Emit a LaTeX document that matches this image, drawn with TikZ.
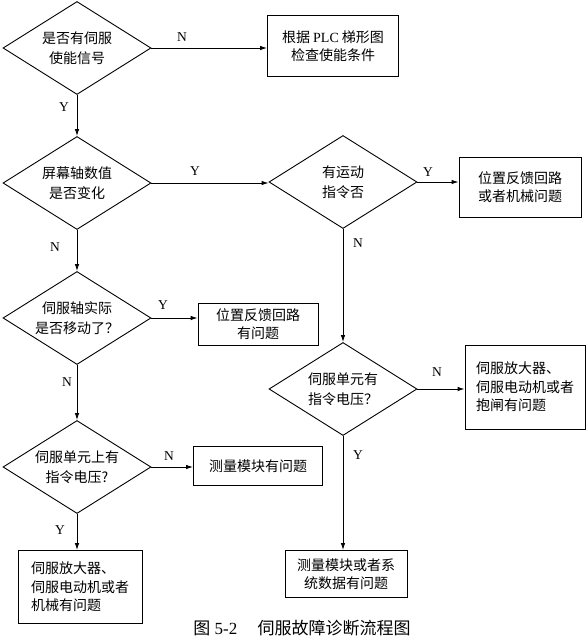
\documentclass[tikz,border=0pt]{standalone}
\usepackage{fontspec}
\setmainfont{Liberation Serif}
\newfontfamily\cjk{Noto Sans CJK SC}
\usetikzlibrary{shapes.geometric,arrows.meta}
\begin{document}
\begin{tikzpicture}[x=1pt,y=-1pt,
 dec/.style={diamond,draw,line width=0.9pt,aspect=1.6,inner sep=0pt,minimum width=148pt,minimum height=93pt,align=center,font=\cjk\fontsize{14}{20}\selectfont},
 box/.style={rectangle,draw,line width=0.9pt,inner sep=0pt,align=center,font=\cjk\fontsize{14}{18.5}\selectfont},
 lbl/.style={font=\fontsize{13.5}{13.5}\selectfont},
 arr/.style={line width=0.9pt,-{Latex[length=7pt,width=4.5pt]}}]
\useasboundingbox (0,0) rectangle (587,640);
% decisions
\node[dec] (d1) at (77,48) {是否有伺服\\使能信号};
\node[dec] (d2) at (77,183) {屏幕轴数值\\是否变化};
\node[dec] (d3) at (343,182) {有运动\\指令否};
\node[dec] (d4) at (77,318) {伺服轴实际\\是否移动了？};
\node[dec] (d6) at (77,467) {伺服单元上有\\指令电压?};
\node[dec] (d5) at (343,389) {伺服单元有\\指令电压？};
% boxes
\node[box,minimum width=131pt,minimum height=61pt] (b1) at (333,46) {根据 {\rmfamily PLC} 梯形图\\检查使能条件};
\node[box,minimum width=122pt,minimum height=60pt] (b2) at (520,187) {位置反馈回路\\或者机械问题};
\node[box,minimum width=120pt,minimum height=42pt] (b3) at (258,324) {位置反馈回路\\有问题};
\node[box,minimum width=129pt,minimum height=39pt] (b4) at (258,466) {测量模块有问题};
\node[box,minimum width=124pt,minimum height=73pt,align=left] (b5) at (80,587) {伺服放大器、\\伺服电动机或者\\机械有问题};
\node[box,minimum width=120pt,minimum height=84pt,align=left] (b6) at (525,387) {伺服放大器、\\伺服电动机或者\\抱闸有问题};
\node[box,minimum width=122pt,minimum height=47pt] (b7) at (346,574) {测量模块或者系\\统数据有问题};
% connectors
\draw[arr] (d1.east) -- (d1.east -| b1.west);
\draw[arr] (d1.south) -- (d2.north);
\draw[arr] (d2.east) -- (d2.east -| d3.west);
\draw[arr] (d3.east) -- (d3.east -| b2.west);
\draw[arr] (d3.south) -- (d5.north);
\draw[arr] (d2.south) -- (d4.north);
\draw[arr] (d4.east) -- (d4.east -| b3.west);
\draw[arr] (d4.south) -- (d6.north);
\draw[arr] (d6.east) -- (d6.east -| b4.west);
\draw[arr] (d6.south) -- (d6.south |- b5.north);
\draw[arr] (d5.east) -- (d5.east -| b6.west);
\draw[arr] (d5.south) -- (d5.south |- b7.north);
% labels
\node[lbl] (l1) at (182,37) {N};
\node[lbl] (l2) at (64,107) {Y};
\node[lbl] (l3) at (195,171) {Y};
\node[lbl] (l4) at (55,247) {N};
\node[lbl] (l5) at (428,172) {Y};
\node[lbl] (l6) at (358,243) {N};
\node[lbl] (l7) at (163,305) {Y};
\node[lbl] (l8) at (67,382) {N};
\node[lbl] (l9) at (169,456) {N};
\node[lbl] (l10) at (60,530) {Y};
\node[lbl] (l11) at (437,372) {N};
\node[lbl] (l12) at (358,455) {Y};
% caption
\node[font=\fontsize{17}{17}\selectfont] (cap) at (302,628) {{\cjk 图} 5-2\hspace{1.2em}{\cjk 伺服故障诊断流程图}};
\end{tikzpicture}
\end{document}
